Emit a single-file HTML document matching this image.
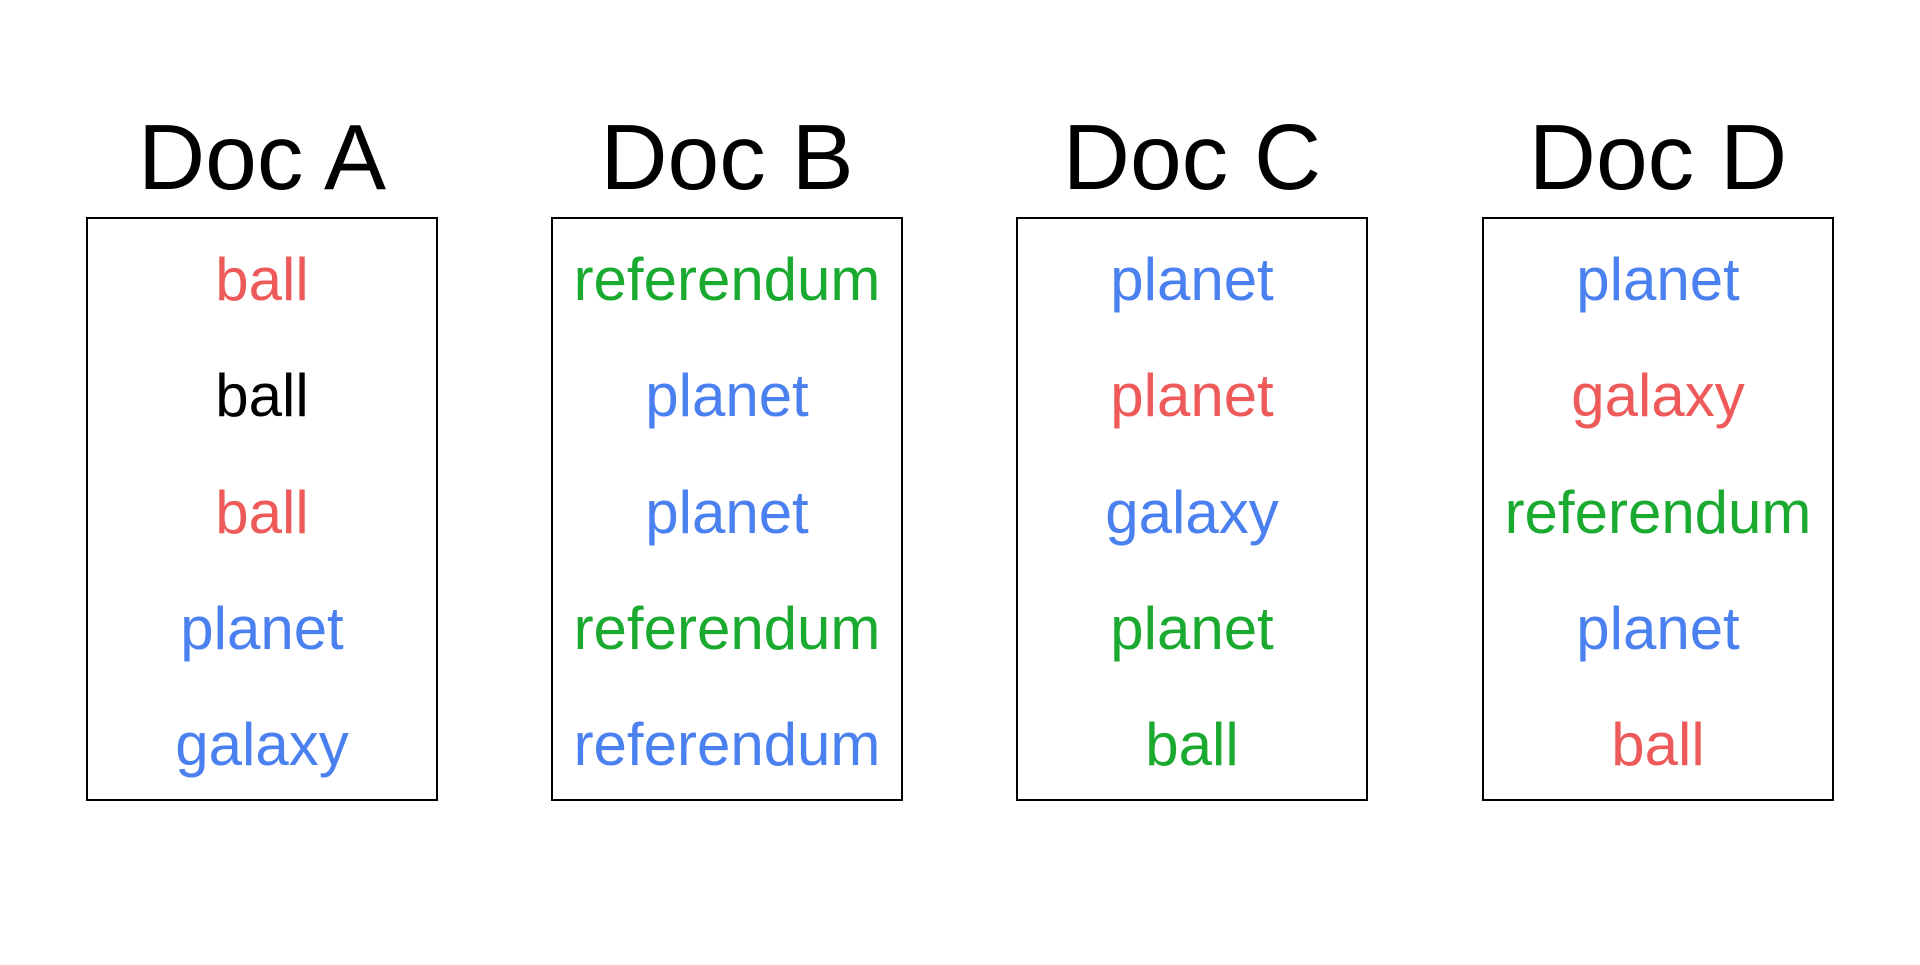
<!DOCTYPE html>
<html><head><meta charset="utf-8"><style>html,body{margin:0;padding:0;background:#fff}</style></head>
<body>
<svg width="1920" height="960" xmlns="http://www.w3.org/2000/svg" font-family="Liberation Sans, Arial, sans-serif">
<rect width="1920" height="960" fill="#fff"/>
<g fill="none" stroke="#000" stroke-width="2">
<rect x="87" y="218" width="350" height="582"/>
<rect x="552" y="218" width="350" height="582"/>
<rect x="1017" y="218" width="350" height="582"/>
<rect x="1483" y="218" width="350" height="582"/>
</g>
<g font-size="93" text-anchor="middle" fill="#000">
<text x="262" y="189">Doc A</text>
<text x="727" y="189">Doc B</text>
<text x="1192" y="189">Doc C</text>
<text x="1658" y="189">Doc D</text>
</g>
<g font-size="60" text-anchor="middle">
<text x="262" y="300" fill="#ee5a5a">ball</text>
<text x="262" y="416" fill="#000">ball</text>
<text x="262" y="533" fill="#ee5a5a">ball</text>
<text x="262" y="649" fill="#4a80f0">planet</text>
<text x="262" y="765" fill="#4a80f0">galaxy</text>

<text x="727" y="300" fill="#1aaa30">referendum</text>
<text x="727" y="416" fill="#4a80f0">planet</text>
<text x="727" y="533" fill="#4a80f0">planet</text>
<text x="727" y="649" fill="#1aaa30">referendum</text>
<text x="727" y="765" fill="#4a80f0">referendum</text>

<text x="1192" y="300" fill="#4a80f0">planet</text>
<text x="1192" y="416" fill="#ee5a5a">planet</text>
<text x="1192" y="533" fill="#4a80f0">galaxy</text>
<text x="1192" y="649" fill="#1aaa30">planet</text>
<text x="1192" y="765" fill="#1aaa30">ball</text>

<text x="1658" y="300" fill="#4a80f0">planet</text>
<text x="1658" y="416" fill="#ee5a5a">galaxy</text>
<text x="1658" y="533" fill="#1aaa30">referendum</text>
<text x="1658" y="649" fill="#4a80f0">planet</text>
<text x="1658" y="765" fill="#ee5a5a">ball</text>
</g>
</svg>
</body></html>
